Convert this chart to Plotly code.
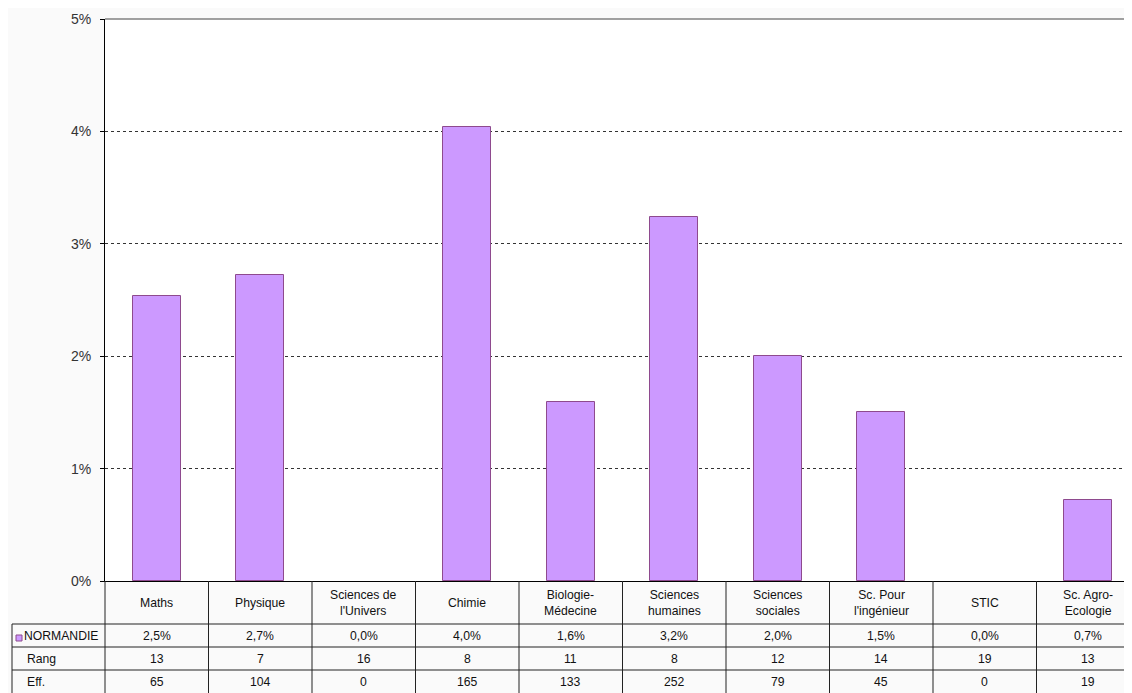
import plotly.graph_objects as go

categories = ["Maths", "Physique", "Sciences de<br>l'Univers", "Chimie", "Biologie-<br>Médecine",
              "Sciences<br>humaines", "Sciences<br>sociales", "Sc. Pour<br>l'ingénieur", "STIC",
              "Sc. Agro-<br>Ecologie"]
series_name = "NORMANDIE"
values = [0.0254, 0.0272, 0.0, 0.0404, 0.0159, 0.0324, 0.0200, 0.0150, 0.0, 0.0072]
value_labels = ["2,5%", "2,7%", "0,0%", "4,0%", "1,6%", "3,2%", "2,0%", "1,5%", "0,0%", "0,7%"]
rang = [13, 7, 16, 8, 11, 8, 12, 14, 19, 13]
eff = [65, 104, 0, 165, 133, 252, 79, 45, 0, 19]
row_names = [series_name, "Rang", "Eff."]

# page body has an 8px margin: size the figure so it fills the window
OFF = 8
W, H = 1132 - OFF, 693 - OFF
# reference pixel positions (page coordinates)
L, T, B_PIX = 105, 19, 581
R_PIX = 1132
plot_h = B_PIX - T
plot_w = R_PIX - L
CAT_W = 103.5
x_max = (R_PIX - L) / CAT_W - 0.5

BAR_FILL = "#CC99FF"
BAR_LINE = "#8E4A8E"
FONT = "Liberation Sans, Arial, sans-serif"
TABLE_FS = 12.2


def py(p):
    return (B_PIX - p) / plot_h


def pxp(p):
    return (p - L) / plot_w


fig = go.Figure()
fig.add_trace(go.Bar(
    x=list(range(len(categories))), y=values, width=0.464,
    marker=dict(color=BAR_FILL,
                line=dict(color=BAR_LINE, width=[1 if v > 0 else 0 for v in values])),
    name=series_name, showlegend=False, hoverinfo="skip",
))

shapes = []
annotations = []

# top border of plot area
shapes.append(dict(type="line", xref="paper", yref="paper", x0=0, x1=1, y0=1, y1=1,
                   line=dict(color="#808080", width=1.5)))

row_lines = [624, 647, 670, 693]
line_col = "#222222"
for yl in row_lines[:3]:
    shapes.append(dict(type="line", xref="paper", yref="paper", x0=pxp(12), x1=1,
                       y0=py(yl), y1=py(yl), line=dict(color=line_col, width=1)))
shapes.append(dict(type="line", xref="paper", yref="paper", x0=pxp(12), x1=pxp(12),
                   y0=py(624), y1=py(693), line=dict(color=line_col, width=1)))
shapes.append(dict(type="line", xref="paper", yref="paper", x0=0, x1=0,
                   y0=0, y1=py(693), line=dict(color=line_col, width=1)))
for k in range(1, len(categories)):
    shapes.append(dict(type="line", xref="x", yref="paper", x0=k - 0.5, x1=k - 0.5,
                       y0=0, y1=py(693), line=dict(color=line_col, width=1)))

for i, c in enumerate(categories):
    annotations.append(dict(x=i, y=py(602.5), xref="x", yref="paper", text=c, showarrow=False,
                            font=dict(family=FONT, size=TABLE_FS, color="#111111"),
                            xanchor="center", yanchor="middle", align="center"))

row_centers = [635.5, 658.5, 681.5]
row_data = [value_labels, rang, eff]
for r, (yc, data) in enumerate(zip(row_centers, row_data)):
    for i, v in enumerate(data):
        annotations.append(dict(x=i, y=py(yc), xref="x", yref="paper", text=str(v), showarrow=False,
                                font=dict(family=FONT, size=TABLE_FS, color="#111111"),
                                xanchor="center", yanchor="middle"))
    x_text = 22 if r == 0 else 25
    annotations.append(dict(x=pxp(x_text), y=py(yc), xref="paper", yref="paper", text=row_names[r],
                            showarrow=False, font=dict(family=FONT, size=TABLE_FS, color="#111111"),
                            xanchor="left", yanchor="middle"))

shapes.append(dict(type="rect", xref="paper", yref="paper", x0=pxp(16), x1=pxp(22),
                   y0=py(641), y1=py(635), fillcolor=BAR_FILL, line=dict(color=BAR_LINE, width=1)))

fig.update_layout(
    width=W, height=H,
    margin=dict(l=L - OFF, r=0, t=T - OFF, b=(693 - B_PIX), pad=0),
    paper_bgcolor="#FAFAFA", plot_bgcolor="#FFFFFF",
    bargap=0,
    shapes=shapes, annotations=annotations,
    xaxis=dict(range=[-0.5, x_max], showticklabels=False, showgrid=False, zeroline=False,
               showline=True, linecolor="#000000", linewidth=1, ticks="", fixedrange=True),
    yaxis=dict(range=[0, 0.05], dtick=0.01, tickformat=".0%", showgrid=True,
               gridcolor="#333333", griddash="3px,3px", gridwidth=1, zeroline=False,
               showline=True, linecolor="#000000", linewidth=1, ticks="outside", ticklen=4,
               tickcolor="#000000", tickfont=dict(family=FONT, size=14, color="#333333"),
               ticklabelstandoff=6, fixedrange=True),
    font=dict(family=FONT),
)

fig.write_html("out.html")
